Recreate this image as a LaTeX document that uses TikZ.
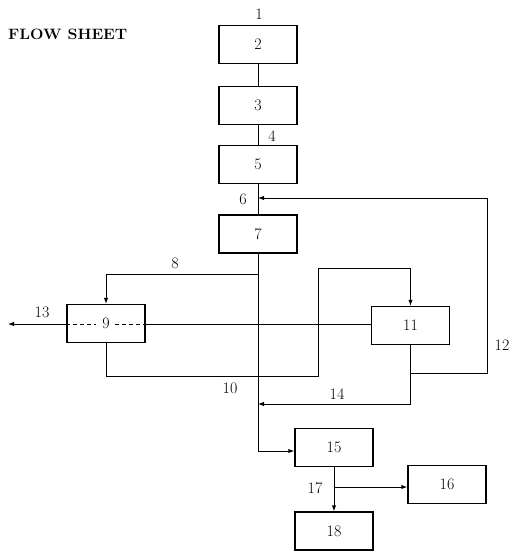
\documentclass[tikz,border=0pt]{standalone}
\usetikzlibrary{arrows.meta}
\begin{document}
\begin{tikzpicture}[x=1pt,y=-1pt,
  box/.style={draw,line width=1.5pt,minimum width=78pt,minimum height=38pt,inner sep=0pt,font=\fontsize{16}{18}\selectfont},
  lab/.style={inner sep=0pt,font=\fontsize{16}{18}\selectfont},
  ln/.style={line width=1pt},
  arr/.style={ln,-{Latex[length=6pt,width=4.5pt]}}]
\useasboundingbox (0,0) rectangle (511,551);
% title
\node[inner sep=0pt,anchor=west,font=\bfseries\fontsize{15}{17}\selectfont,xscale=1.06] (title) at (8,34) {FLOW SHEET};
% boxes
\node[box] (b2) at (258,44.5) {2};
\node[box] (b3) at (258,105.5) {3};
\node[box] (b5) at (258,164.5) {5};
\node[box] (b7) at (258,234) {7};
\node[box] (b9) at (106,323.5) {9};
\node[box] (b11) at (410.5,325.5) {11};
\node[box] (b15) at (334,447.5) {15};
\node[box] (b16) at (447,484.5) {16};
\node[box] (b18) at (334,531) {18};
% labels
\node[lab] (l1) at (259,14) {1};
\node[lab] (l4) at (272,136) {4};
\node[lab] (l6) at (243,199) {6};
\node[lab] (l8) at (175,263) {8};
\node[lab] (l13) at (42,312) {13};
\node[lab] (l10) at (230,388) {10};
\node[lab] (l12) at (502,345) {12};
\node[lab] (l14) at (337,394) {14};
\node[lab] (l17) at (315,488) {17};
% coordinates
\coordinate (j6) at (258,198);
\coordinate (j8) at (258,274);
\coordinate (j14) at (258,404);
\coordinate (j15) at (258,451);
\coordinate (j17) at (334,487);
\coordinate (j11) at (410.5,373);
\coordinate (e13) at (8,324);
% main line
\draw[ln] (b2.south) -- (b3.north);
\draw[ln] (b3.south) -- (b5.north);
\draw[ln] (b5.south) -- (b7.north);
\draw[ln] (b7.south) -- (j15);
\draw[arr] (j15) -- (b15.west|-j15);
% 8
\draw[arr] (j8) -| (b9.north);
% 13 and dashed line through 9
\draw[arr] (b9.west|-e13) -- (e13);
\draw[ln,dash pattern=on 4pt off 3pt] (b9.west|-e13) -- (96,324);
\draw[ln,dash pattern=on 4pt off 3pt] (115,324) -- (b9.east|-e13);
\draw[ln] (b9.east|-e13) -- (b11.west|-e13);
% 10
\draw[arr] (b9.south) -- (106,376) -- (318,376) -- (318,268) -| (b11.north);
% 12
\draw[ln] (b11.south) -- (j11);
\draw[arr] (j11) -- (487,373) -- (487,198) -- (j6);
% 14
\draw[arr] (j11) |- (j14);
% 17
\draw[arr] (b15.south) -- (b18.north);
\draw[arr] (j17) -- (b16.west|-j17);
\end{tikzpicture}
\end{document}
